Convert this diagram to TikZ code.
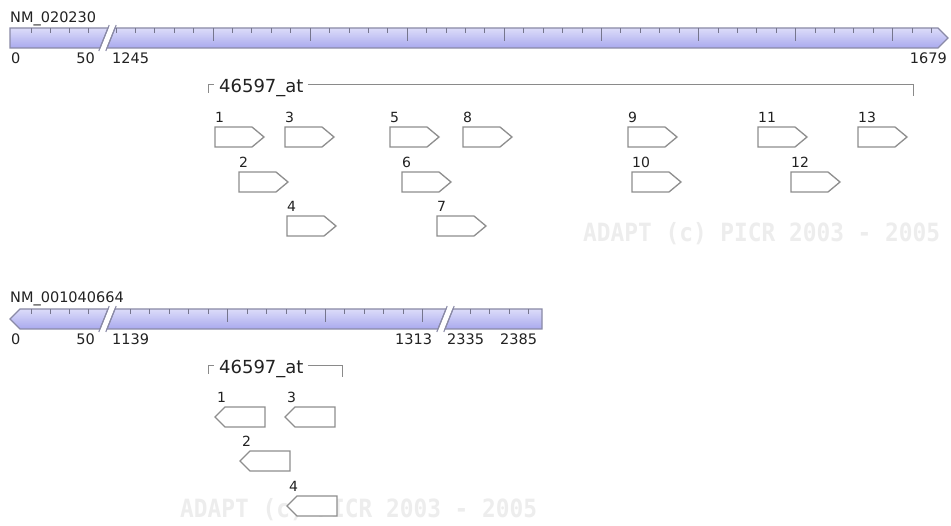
\documentclass[tikz,border=0pt]{standalone}
\usepackage{fontspec}
\setmainfont{DejaVu Sans}
\newfontfamily\wmfont{DejaVu Sans Mono}
\definecolor{barTop}{HTML}{DCDCF9}
\definecolor{barBot}{HTML}{A9A9EE}
\definecolor{barLine}{HTML}{8A8AA6}
\definecolor{boxLine}{HTML}{8E8E8E}
\definecolor{wmCol}{HTML}{EDEDED}
\definecolor{txtCol}{HTML}{222222}
\definecolor{brkCol}{HTML}{8A8A8A}
\tikzset{
  barseg/.style={draw=barLine, line width=1.1pt, top color=barTop, bottom color=barBot, line join=miter},
  slashln/.style={draw=barLine, line width=1.1pt},
  tickln/.style={draw=barLine!85!black, line width=0.8pt},
  probe/.style={draw=boxLine, line width=1.3pt, fill=white, line join=miter},
  plabel/.style={inner sep=0pt, font=\fontsize{14}{16}\selectfont, text=txtCol},
  slabel/.style={inner sep=0pt, font=\fontsize{14.5}{16}\selectfont, text=txtCol},
  plabelbig/.style={inner sep=0pt, font=\fontsize{18}{20}\selectfont, text=txtCol},
  brk/.style={draw=brkCol, line width=1pt},
  wmark/.style={inner sep=0pt, text=wmCol, font=\wmfont\bfseries\fontsize{22.8}{24}\selectfont, yscale=1.1}
}
\newcommand\probeR[4]{%
  \draw[probe] (#2,#3) -- ++(37,0) -- ++(12,10) -- ++(-12,10) -- ++(-37,0) -- cycle;
  \node[plabel, anchor=base west] (#1) at (#2,#3-4) {#4};}
\newcommand\probeL[4]{%
  \draw[probe] (#2,#3+10) -- ++(10,-10) -- ++(40,0) -- ++(0,20) -- ++(-40,0) -- cycle;
  \node[plabel, anchor=base west] (#1) at (#2+2,#3-4) {#4};}
\begin{document}
\begin{tikzpicture}[x=1pt, y=-1pt]
\useasboundingbox (0,0) rectangle (951,526);
\fill[white] (0,0) rectangle (951,526);
% watermarks
\node[wmark, anchor=base west] (wm1) at (583,242) {ADAPT (c) PICR 2003 - 2005};
\node[wmark, anchor=base west] (wm2) at (180,518) {ADAPT (c) PICR 2003 - 2005};

% ---------- top transcript ----------
\node[slabel, anchor=base west] (nm1) at (10,23) {NM\_020230};
\path[barseg] (10,28) -- (108,28) -- (100,48) -- (10,48) -- cycle;
\path[barseg] (115,28) -- (938,28) -- (948,38) -- (938,48) -- (107,48) -- cycle;
\draw[slashln] (98.8,51) -- (109.2,25);
\draw[slashln] (105.8,51) -- (116.2,25);
\foreach \x in {31,50,69,88} \draw[tickln] (\x,28) -- ++(0,5);
\foreach \i in {-5,...,37} \draw[tickln] ({213+\i*19.42},28) -- ++(0,5);
\foreach \i in {0,...,7} \draw[tickln] ({213+\i*97.1},28) -- ++(0,13);
\node[slabel, anchor=base west] (s10) at (11,64) {0};
\node[slabel, anchor=base east] (s11) at (95,64) {50};
\node[slabel, anchor=base west] (s12) at (112,64) {1245};
\node[slabel, anchor=base east] (s13) at (947,64) {1679};

\node[plabelbig, anchor=base west] (ps1) at (219,93) {46597\_at};
\draw[brk] (208,93) -- (208,85) -- (214,85);
\coordinate (ps1r) at (913,85);
\draw[brk] ([xshift=4pt]ps1.east |- ps1r) -- (ps1r) -- ++(0,11);

\probeR{a1}{215}{127}{1}
\probeR{a3}{285}{127}{3}
\probeR{a5}{390}{127}{5}
\probeR{a8}{463}{127}{8}
\probeR{a9}{628}{127}{9}
\probeR{a11}{758}{127}{11}
\probeR{a13}{858}{127}{13}
\probeR{a2}{239}{172}{2}
\probeR{a6}{402}{172}{6}
\probeR{a10}{632}{172}{10}
\probeR{a12}{791}{172}{12}
\probeR{a4}{287}{216}{4}
\probeR{a7}{437}{216}{7}

% ---------- bottom transcript ----------
\node[slabel, anchor=base west] (nm2) at (10,303) {NM\_001040664};
\path[barseg] (20,309) -- (108,309) -- (100,329) -- (20,329) -- (10,319) -- cycle;
\path[barseg] (115,309) -- (446,309) -- (438,329) -- (107,329) -- cycle;
\path[barseg] (453,309) -- (542,309) -- (542,329) -- (445,329) -- cycle;
\draw[slashln] (98.8,332) -- (109.2,306);
\draw[slashln] (105.8,332) -- (116.2,306);
\draw[slashln] (436.8,332) -- (447.2,306);
\draw[slashln] (443.8,332) -- (454.2,306);
\foreach \x in {31,50,69,88} \draw[tickln] (\x,309) -- ++(0,5);
\foreach \i in {-5,...,10} \draw[tickln] ({227.5+\i*19.5},309) -- ++(0,5);
\foreach \i in {0,...,2} \draw[tickln] ({227.5+\i*97.5},309) -- ++(0,13);
\foreach \x in {470,489,509,528} \draw[tickln] (\x,309) -- ++(0,5);
\node[slabel, anchor=base west] (s20) at (11,345) {0};
\node[slabel, anchor=base east] (s21) at (95,345) {50};
\node[slabel, anchor=base west] (s22) at (112,345) {1139};
\node[slabel, anchor=base west] (s23) at (395,345) {1313};
\node[slabel, anchor=base west] (s24) at (447,345) {2335};
\node[slabel, anchor=base west] (s25) at (500,345) {2385};

\node[plabelbig, anchor=base west] (ps2) at (219,374) {46597\_at};
\draw[brk] (208,374) -- (208,366) -- (214,366);
\coordinate (ps2r) at (342,366);
\draw[brk] ([xshift=4pt]ps2.east |- ps2r) -- (ps2r) -- ++(0,11);

\probeL{b1}{215}{407}{1}
\probeL{b3}{285}{407}{3}
\probeL{b2}{240}{451}{2}
\probeL{b4}{287}{496}{4}
\end{tikzpicture}
\end{document}
